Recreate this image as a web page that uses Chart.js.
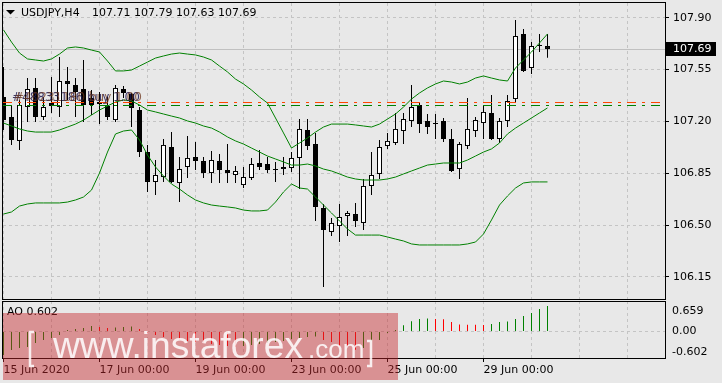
<!DOCTYPE html>
<html lang="en">
<head>
<meta charset="UTF-8" />
<title>USDJPY H4</title>
<script src="https://cdn.jsdelivr.net/npm/chart.js"></script>
<style>
  html, body { margin: 0; padding: 0; background: #e8e8e8; }
  body { width: 722px; height: 383px; position: relative; overflow: hidden; }
  canvas { position: absolute; left: 0; }
  #priceChart { top: 0; }
  #aoChart { top: 300px; }
</style>
</head>
<body>
<canvas id="priceChart" width="722" height="300"></canvas>
<canvas id="aoChart" width="722" height="83"></canvas>

<script>
// ---- data ----
const symbol = 'USDJPY,H4';

const opens = [107.365, 107.230, 107.068, 107.297, 107.426, 107.230, 107.324, 107.297, 107.473, 107.446,
  107.419, 107.358, 107.318, 107.304, 107.209, 107.419, 107.385, 107.277, 106.993, 106.791,
  106.824, 107.027, 106.784, 106.892, 106.959, 106.932, 106.851, 106.932, 106.872, 106.838,
  106.770, 106.818, 106.919, 106.912, 106.872, 106.878, 106.885, 106.953, 107.142, 107.047,
  106.615, 106.453, 106.493, 106.561, 106.574, 106.514, 106.764, 106.845, 107.034, 107.054,
  107.135, 107.203, 107.311, 107.203, 107.189, 107.203, 107.081, 106.878, 107.034, 107.135,
  107.189, 107.257, 107.081, 107.203, 107.351, 107.791, 107.561, 107.709, 107.71];
const highs = [107.568, 107.311, 107.345, 107.493, 107.493, 107.365, 107.500, 107.635, 107.568, 107.493,
  107.615, 107.412, 107.399, 107.365, 107.446, 107.439, 107.392, 107.297, 107.041, 106.939,
  107.081, 107.128, 106.959, 107.101, 107.061, 106.959, 107.000, 106.980, 107.047, 106.899,
  106.892, 106.953, 107.007, 106.959, 106.926, 106.959, 106.993, 107.216, 107.216, 107.122,
  106.642, 106.547, 106.642, 106.595, 106.649, 106.811, 106.993, 107.074, 107.122, 107.257,
  107.257, 107.446, 107.331, 107.250, 107.250, 107.223, 107.149, 107.061, 107.358, 107.230,
  107.304, 107.378, 107.223, 107.378, 107.885, 107.824, 107.736, 107.791, 107.79];
const lows = [107.142, 107.041, 107.007, 107.196, 107.196, 107.209, 107.257, 107.230, 107.345, 107.230,
  107.196, 107.243, 107.182, 107.209, 107.196, 107.358, 107.162, 106.959, 106.723, 106.703,
  106.791, 106.784, 106.655, 106.818, 106.872, 106.818, 106.784, 106.784, 106.784, 106.784,
  106.750, 106.804, 106.872, 106.851, 106.791, 106.838, 106.858, 106.743, 107.007, 106.527,
  106.081, 106.426, 106.385, 106.426, 106.486, 106.466, 106.703, 106.811, 107.014, 107.041,
  107.047, 107.162, 107.122, 107.115, 107.081, 107.061, 106.858, 106.811, 107.014, 107.095,
  107.081, 107.074, 107.054, 107.162, 107.331, 107.534, 107.520, 107.669, 107.63];
const closes = [107.209, 107.074, 107.311, 107.419, 107.230, 107.297, 107.304, 107.473, 107.453, 107.399,
  107.311, 107.311, 107.331, 107.230, 107.426, 107.392, 107.291, 106.993, 106.791, 106.838,
  107.041, 106.791, 106.878, 106.953, 106.932, 106.851, 106.939, 106.872, 106.851, 106.865,
  106.824, 106.912, 106.892, 106.872, 106.872, 106.892, 106.953, 107.149, 107.034, 106.622,
  106.466, 106.514, 106.554, 106.581, 106.527, 106.764, 106.838, 107.027, 107.068, 107.149,
  107.216, 107.297, 107.182, 107.162, 107.182, 107.081, 106.865, 107.047, 107.149, 107.209,
  107.264, 107.081, 107.203, 107.338, 107.777, 107.541, 107.709, 107.709, 107.69];

const bbUpper = [107.818, 107.736, 107.662, 107.622, 107.615, 107.608, 107.622, 107.655, 107.696, 107.703,
  107.696, 107.682, 107.669, 107.608, 107.541, 107.541, 107.547, 107.574, 107.601, 107.628,
  107.642, 107.655, 107.662, 107.655, 107.649, 107.635, 107.615, 107.574, 107.534, 107.486,
  107.453, 107.412, 107.365, 107.324, 107.223, 107.122, 107.020, 107.054, 107.088, 107.128,
  107.162, 107.182, 107.182, 107.182, 107.176, 107.169, 107.162, 107.182, 107.216, 107.250,
  107.297, 107.351, 107.392, 107.426, 107.453, 107.473, 107.466, 107.453, 107.466, 107.493,
  107.507, 107.493, 107.480, 107.473, 107.561, 107.615, 107.669, 107.730, 107.791];
const bbMiddle = [107.189, 107.169, 107.149, 107.135, 107.128, 107.128, 107.128, 107.142, 107.162, 107.182,
  107.209, 107.243, 107.277, 107.304, 107.331, 107.345, 107.338, 107.311, 107.277, 107.264,
  107.250, 107.236, 107.223, 107.203, 107.189, 107.169, 107.155, 107.128, 107.095, 107.068,
  107.047, 107.020, 106.993, 106.966, 106.946, 106.926, 106.905, 106.905, 106.912, 106.899,
  106.878, 106.865, 106.845, 106.824, 106.811, 106.804, 106.804, 106.804, 106.811, 106.824,
  106.845, 106.865, 106.885, 106.905, 106.912, 106.919, 106.919, 106.919, 106.939, 106.966,
  106.993, 107.014, 107.054, 107.115, 107.155, 107.189, 107.223, 107.257, 107.291];
const bbLower = [106.574, 106.588, 106.628, 106.642, 106.649, 106.649, 106.649, 106.649, 106.655, 106.669,
  106.689, 106.736, 106.851, 106.993, 107.115, 107.135, 107.142, 107.074, 106.973, 106.892,
  106.831, 106.777, 106.743, 106.703, 106.669, 106.649, 106.635, 106.628, 106.622, 106.615,
  106.601, 106.595, 106.595, 106.601, 106.655, 106.723, 106.777, 106.750, 106.743, 106.689,
  106.635, 106.581, 106.527, 106.473, 106.432, 106.432, 106.432, 106.432, 106.419, 106.405,
  106.392, 106.372, 106.365, 106.365, 106.365, 106.365, 106.365, 106.365, 106.372, 106.385,
  106.439, 106.534, 106.635, 106.696, 106.750, 106.784, 106.791, 106.791, 106.791];

const aoValues = [-0.554, -0.436, -0.389, -0.366, -0.271, -0.200, -0.153, -0.083, 0.035, 0.059,
  0.083, 0.130, 0.106, 0.083, 0.094, 0.106, 0.118, 0.059, -0.035, -0.083,
  -0.130, -0.177, -0.200, -0.224, -0.248, -0.271, -0.295, -0.318, -0.342, -0.366,
  -0.342, -0.318, -0.295, -0.271, -0.248, -0.224, -0.177, -0.153, -0.130, -0.118,
  -0.200, -0.248, -0.342, -0.366, -0.429, -0.389, -0.224, -0.200, -0.035, 0.035,
  0.146, 0.241, 0.295, 0.307, 0.295, 0.288, 0.224, 0.165, 0.160, 0.158,
  0.153, 0.177, 0.224, 0.236, 0.295, 0.366, 0.436, 0.531, 0.602];

const priceTicks = [106.15, 106.50, 106.85, 107.20, 107.55, 107.90];
const aoTicks = [0.659, 0, -0.602];
const aoLabel = 'AO 0.602';
const timeLabels = ['15 Jun 2020', '17 Jun 00:00', '19 Jun 00:00', '23 Jun 00:00', '25 Jun 00:00', '29 Jun 00:00'];
const timeLabelBars = [0, 12, 24, 36, 48, 60];
const orderLevels = [107.328, 107.311];
const orderTexts = ['#48833186 buy 1.00', '#40231180 buy 1.00'];

// ---- look ----
const FONT = '"DejaVu Sans", sans-serif';
const gridColor = '#c4c4c4';
const green = '#008000';
const red = '#ff0000';
const orderColors = ['#ff4500', '#008000'];
const orderTextColors = ['rgba(30,25,80,0.85)', 'rgba(110,55,30,0.75)'];
const xMin = -0.0625, xMax = 82.8125;   // 8 px per bar, bar 0 at x=3.5
const gridBars = [0, 6, 12, 18, 24, 30, 36, 42, 48, 54, 60, 66, 72, 78];

Chart.defaults.font.family = FONT;
Chart.defaults.font.size = 11;
Chart.defaults.color = '#000';

const idx = opens.map((_, i) => i);
const last = closes.length - 1;

function timeAxis(extra) {
  return Object.assign({
    type: 'linear', min: xMin, max: xMax, offset: false,
    afterBuildTicks: s => { s.ticks = gridBars.map(v => ({ value: v })); },
    grid: { offset: false, color: gridColor, drawTicks: false },
    border: { display: false, dash: [3, 3] },
    ticks: { display: false }
  }, extra);
}

// ---- price window ----
const priceDecor = {
  id: 'priceDecor',
  beforeDatasetsDraw(chart) {
    const { ctx, chartArea: a, scales: { y } } = chart;
    const py = Math.round(y.getPixelForValue(closes[last])) + 0.5;
    ctx.save();
    ctx.strokeStyle = '#c0c0c0';
    ctx.lineWidth = 1;
    ctx.beginPath(); ctx.moveTo(a.left, py); ctx.lineTo(a.right, py); ctx.stroke();
    ctx.restore();
  },
  afterDraw(chart) {
    const { ctx, chartArea: a, scales: { y } } = chart;
    ctx.save();

    // order lines
    ctx.lineWidth = 1;
    ctx.setLineDash([9, 6, 3, 6]);
    orderLevels.forEach((lvl, k) => {
      const py = Math.round(y.getPixelForValue(lvl)) + 0.5;
      ctx.strokeStyle = orderColors[k];
      ctx.beginPath(); ctx.moveTo(a.left, py); ctx.lineTo(a.right, py); ctx.stroke();
    });
    ctx.setLineDash([]);

    ctx.font = '12px ' + FONT;
    ctx.textBaseline = 'alphabetic';
    orderTexts.forEach((t, k) => {
      ctx.fillStyle = orderTextColors[k];
      ctx.fillText(t, 12 + k * 2, 101);
    });

    // frame
    ctx.strokeStyle = '#000';
    ctx.strokeRect(a.left - 0.5, a.top - 0.5, a.right - a.left, a.bottom - a.top + 1);

    // header
    ctx.fillStyle = '#000';
    ctx.beginPath(); ctx.moveTo(6, 10); ctx.lineTo(15, 10); ctx.lineTo(10.5, 14.5); ctx.closePath(); ctx.fill();
    ctx.font = '11px ' + FONT;
    ctx.textBaseline = 'middle';
    ctx.fillText(symbol, 21, 13);
    ctx.fillText([opens[last], highs[last], lows[last], closes[last]].map(v => v.toFixed(2)).join(' '), 92, 13);

    // price scale labels
    priceTicks.forEach(v => ctx.fillText(v.toFixed(2), a.right + 7, y.getPixelForValue(v)));

    // current price box
    const cy = y.getPixelForValue(closes[last]);
    ctx.fillStyle = '#000';
    ctx.fillRect(a.right, Math.round(cy) - 7, 50, 14);
    ctx.fillStyle = '#fff';
    ctx.fillText(closes[last].toFixed(2), a.right + 7, cy);
    ctx.restore();
  }
};

new Chart(document.getElementById('priceChart'), {
  type: 'bar',
  data: {
    datasets: [
      { type: 'line', data: idx.map(i => ({ x: i, y: bbUpper[i] })), borderColor: green, borderWidth: 1, pointRadius: 0, order: 0 },
      { type: 'line', data: idx.map(i => ({ x: i, y: bbMiddle[i] })), borderColor: green, borderWidth: 1, pointRadius: 0, order: 0 },
      { type: 'line', data: idx.map(i => ({ x: i, y: bbLower[i] })), borderColor: green, borderWidth: 1, pointRadius: 0, order: 0 },
      {
        data: idx.map(i => ({ x: i, y: [opens[i], closes[i]] })),
        backgroundColor: idx.map(i => closes[i] > opens[i] ? '#ffffff' : '#000000'),
        borderColor: '#000', borderWidth: 1, borderSkipped: false,
        barThickness: 5, minBarLength: 1, grouped: false, inflateAmount: 0, order: 1
      },
      {
        data: idx.map(i => ({ x: i, y: [lows[i], highs[i]] })),
        backgroundColor: '#000', borderWidth: 0,
        barThickness: 1, grouped: false, inflateAmount: 0, order: 2
      }
    ]
  },
  options: {
    responsive: false, animation: false, devicePixelRatio: 1, events: [],
    layout: { padding: { left: 3, top: 3, right: 0, bottom: 0 } },
    plugins: { legend: { display: false }, tooltip: { enabled: false } },
    scales: {
      x: timeAxis({ afterFit: s => { s.height = 1; } }),
      y: {
        position: 'right', min: 106, max: 108,
        afterBuildTicks: s => { s.ticks = priceTicks.map(v => ({ value: v })); },
        afterFit: s => { s.width = 56; },
        ticks: { display: false },
        grid: { color: gridColor, drawTicks: true, tickLength: 3, tickColor: '#000', tickBorderDash: [] },
        border: { display: false, dash: [3, 3] }
      }
    }
  },
  plugins: [priceDecor]
});

// ---- AO window ----
const aoDecor = {
  id: 'aoDecor',
  afterDraw(chart) {
    const { ctx, chartArea: a, scales: { y } } = chart;
    ctx.save();
    ctx.strokeStyle = '#000';
    ctx.lineWidth = 1;
    ctx.strokeRect(a.left - 0.5, a.top + 0.5, a.right - a.left, a.bottom - a.top - 1);

    ctx.fillStyle = '#000';
    ctx.font = '11px ' + FONT;
    ctx.textBaseline = 'middle';
    ctx.fillText(aoLabel, 7, a.top + 11);
    aoTicks.forEach(v => {
      const py = Math.min(Math.max(y.getPixelForValue(v), a.top + 10), a.bottom - 7);
      ctx.fillText(v === 0 ? '0.00' : v.toFixed(3), a.right + 6, py);
    });

    // broker watermark
    ctx.fillStyle = 'rgba(200,40,45,0.45)';
    ctx.fillRect(3, 13, 395, 67);
    ctx.fillStyle = 'rgba(255,255,255,0.85)';
    ctx.strokeStyle = 'rgba(255,255,255,0.85)';
    ctx.lineWidth = 2.5;
    ctx.beginPath();
    ctx.moveTo(34, 32); ctx.lineTo(30, 32); ctx.lineTo(30, 66); ctx.lineTo(34, 66);
    ctx.moveTo(367, 41); ctx.lineTo(371, 41); ctx.lineTo(371, 66); ctx.lineTo(367, 66);
    ctx.stroke();
    ctx.textBaseline = 'alphabetic';
    ctx.font = '36px "Liberation Sans", sans-serif';
    const w1 = ctx.measureText('www.instaforex').width;
    ctx.save();
    ctx.translate(53, 58);
    ctx.scale(250 / w1, 1);
    ctx.fillText('www.instaforex', 0, 0);
    ctx.restore();
    ctx.font = '26px "Liberation Sans", sans-serif';
    ctx.fillText('.com', 308, 58);
    ctx.restore();
  }
};

new Chart(document.getElementById('aoChart'), {
  type: 'bar',
  data: {
    datasets: [{
      data: idx.map(i => ({ x: i, y: aoValues[i] })),
      backgroundColor: idx.map(i => (i === 0 || aoValues[i] >= aoValues[i - 1]) ? green : red),
      borderWidth: 0, barThickness: 1, grouped: false, inflateAmount: 0
    }]
  },
  options: {
    responsive: false, animation: false, devicePixelRatio: 1, events: [],
    layout: { padding: { left: 3, top: 1, right: 0, bottom: 0 } },
    plugins: { legend: { display: false }, tooltip: { enabled: false } },
    scales: {
      x: timeAxis({
        afterFit: s => { s.height = 24; },
        grid: {
          offset: false, color: gridColor, drawTicks: true, tickLength: 3, tickBorderDash: [],
          tickColor: c => timeLabelBars.includes(c.tick.value) ? '#000' : 'rgba(0,0,0,0)'
        },
        ticks: {
          display: true, autoSkip: false, maxRotation: 0, align: 'start', padding: 2,
          callback: v => { const k = timeLabelBars.indexOf(v); return k >= 0 ? timeLabels[k] : ''; }
        }
      }),
      y: {
        position: 'right', min: -0.649, max: 0.719,
        afterBuildTicks: s => { s.ticks = [{ value: 0 }]; },
        afterFit: s => { s.width = 56; },
        ticks: { display: false },
        grid: { color: gridColor, drawTicks: false },
        border: { display: false, dash: [3, 3] }
      }
    }
  },
  plugins: [aoDecor]
});
</script>
</body>
</html>
